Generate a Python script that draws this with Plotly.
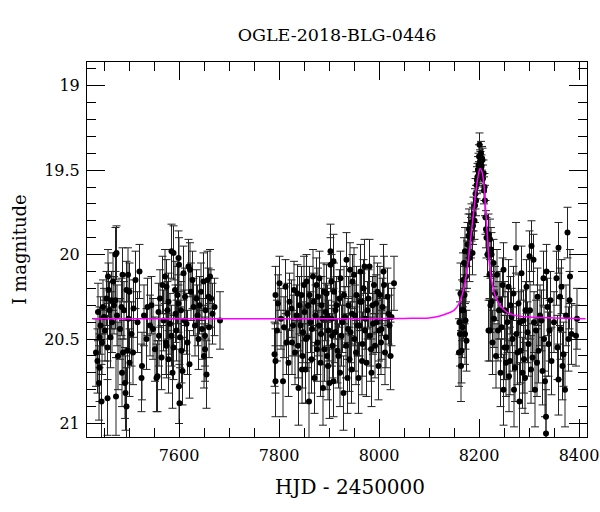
import plotly.graph_objects as go

# ---------------- data ----------------
# Season 1
hjd_s1 = [7434, 7437, 7438, 7440, 7441, 7441, 7443, 7445, 7446, 7448,
          7450, 7452, 7455, 7457, 7457, 7458, 7459, 7461, 7463, 7465,
          7466, 7468, 7470, 7473, 7473, 7474, 7475, 7476, 7478, 7482,
          7485, 7486, 7487, 7488, 7490, 7492, 7493, 7495, 7495, 7497,
          7498, 7499, 7501, 7501, 7505, 7508, 7509, 7513, 7517, 7521,
          7525, 7526, 7530, 7535, 7537, 7542, 7545, 7548, 7552, 7555,
          7557, 7559, 7560, 7562, 7565, 7567, 7569, 7572, 7574, 7575,
          7575, 7577, 7579, 7579, 7582, 7585, 7585, 7587, 7589, 7589,
          7592, 7593, 7595, 7597, 7599, 7599, 7600, 7600, 7601, 7602,
          7604, 7605, 7607, 7609, 7611, 7612, 7615, 7617, 7619, 7621,
          7622, 7624, 7627, 7629, 7632, 7635, 7637, 7639, 7641, 7644,
          7646, 7649, 7650, 7652, 7652, 7653, 7655, 7657, 7659, 7660,
          7662, 7664, 7667, 7671, 7682]
mag_s1 = [20.58, 20.63, 20.34, 20.76, 20.49, 20.67, 20.42, 20.87, 20.52, 20.31,
          20.37, 20.45, 20.26, 20.85, 20.55, 20.13, 20.21, 20.33, 20.49, 20.27,
          20.40, 20.16, 20.30, 20.00, 20.27, 20.84, 19.99, 20.36, 20.60, 20.44,
          20.31, 20.70, 20.12, 20.58, 20.33, 20.76, 20.82, 20.21, 20.90, 20.57,
          20.12, 20.38, 20.22, 20.64, 20.47, 20.58, 20.32, 20.15, 20.40, 20.10,
          20.73, 20.66, 20.36, 20.50, 20.31, 20.42, 20.30, 20.44, 20.56, 20.73,
          20.72, 20.34, 20.48, 20.26, 20.61, 20.18, 20.39, 20.13, 20.52, 20.19,
          20.54, 20.33, 20.62, 20.28, 20.41, 19.98, 20.48, 20.70, 19.99, 20.55,
          20.21, 20.35, 20.45, 20.24, 20.02, 20.29, 20.06, 20.78, 20.88, 20.49,
          20.33, 20.57, 20.69, 20.11, 20.39, 20.25, 20.41, 20.52, 20.07, 20.65,
          20.09, 20.22, 20.15, 20.31, 20.42, 20.26, 20.36, 20.50, 20.30, 20.22,
          20.44, 20.16, 20.60, 20.48, 20.56, 20.33, 20.71, 20.15, 20.25, 20.43,
          20.13, 20.26, 20.35, 20.31, 20.39]
err_s1 = [0.20, 0.19, 0.17, 0.22, 0.18, 0.20, 0.17, 0.22, 0.19, 0.16,
          0.17, 0.18, 0.16, 0.22, 0.19, 0.16, 0.16, 0.17, 0.18, 0.17,
          0.18, 0.17, 0.17, 0.16, 0.17, 0.23, 0.16, 0.18, 0.20, 0.18,
          0.17, 0.20, 0.16, 0.19, 0.17, 0.21, 0.22, 0.17, 0.23, 0.19,
          0.16, 0.18, 0.17, 0.20, 0.19, 0.19, 0.17, 0.17, 0.18, 0.16,
          0.20, 0.20, 0.18, 0.18, 0.17, 0.18, 0.17, 0.18, 0.19, 0.20,
          0.21, 0.17, 0.18, 0.17, 0.19, 0.17, 0.18, 0.16, 0.19, 0.16,
          0.19, 0.17, 0.20, 0.17, 0.18, 0.16, 0.18, 0.21, 0.16, 0.19,
          0.17, 0.17, 0.18, 0.17, 0.16, 0.17, 0.16, 0.22, 0.23, 0.18,
          0.17, 0.19, 0.20, 0.16, 0.18, 0.17, 0.18, 0.19, 0.16, 0.20,
          0.16, 0.17, 0.17, 0.17, 0.18, 0.17, 0.18, 0.18, 0.17, 0.17,
          0.18, 0.17, 0.19, 0.18, 0.19, 0.17, 0.20, 0.17, 0.17, 0.18,
          0.16, 0.17, 0.18, 0.17, 0.17]

# Season 2
hjd_s2 = [7791, 7793, 7793, 7793, 7796, 7798, 7801, 7804, 7808, 7810,
          7813, 7815, 7817, 7819, 7821, 7825, 7826, 7828, 7830, 7832,
          7835, 7837, 7838, 7839, 7841, 7843, 7845, 7846, 7847, 7848,
          7850, 7851, 7853, 7854, 7855, 7857, 7858, 7860, 7861, 7863,
          7865, 7866, 7868, 7869, 7871, 7873, 7875, 7876, 7877, 7878,
          7880, 7881, 7883, 7884, 7885, 7887, 7888, 7890, 7891, 7893,
          7895, 7896, 7897, 7898, 7899, 7901, 7903, 7903, 7905, 7905,
          7906, 7907, 7909, 7909, 7910, 7912, 7913, 7915, 7917, 7919,
          7921, 7922, 7923, 7925, 7927, 7929, 7930, 7932, 7934, 7935,
          7937, 7938, 7939, 7941, 7942, 7943, 7945, 7946, 7947, 7950,
          7951, 7952, 7954, 7955, 7957, 7959, 7961, 7962, 7963, 7965,
          7966, 7967, 7969, 7971, 7972, 7973, 7975, 7977, 7979, 7981,
          7982, 7984, 7985, 7987, 7988, 7990, 7992, 7994, 7995, 7997,
          7999, 8000, 8002, 8004, 8005, 8007, 8009, 8010, 8012, 8014,
          8017, 8019, 8021, 8023, 8025, 8030]
mag_s2 = [20.59, 20.24, 20.63, 20.75, 20.45, 20.29, 20.17, 20.38, 20.75, 20.43,
          20.19, 20.52, 20.35, 20.64, 20.28, 20.32, 20.52, 20.42, 20.21, 20.58,
          20.36, 20.23, 20.54, 20.79, 20.30, 20.42, 20.24, 20.68, 20.60, 20.46,
          20.18, 20.34, 20.68, 20.50, 20.16, 20.49, 20.30, 20.87, 20.24, 20.40,
          20.62, 20.44, 20.13, 20.28, 20.73, 20.36, 20.18, 20.56, 20.52, 20.25,
          20.42, 20.14, 20.64, 20.47, 20.30, 20.38, 20.79, 20.22, 20.56, 20.34,
          20.23, 20.60, 20.36, 20.66, 20.45, 20.76, 19.98, 20.06, 20.16, 20.38,
          20.48, 20.54, 20.04, 20.75, 20.22, 20.46, 20.33, 20.30, 20.57, 20.60,
          20.26, 20.70, 20.14, 20.48, 20.40, 20.82, 20.24, 20.37, 20.54, 20.03,
          20.73, 20.44, 20.30, 20.62, 20.09, 20.46, 20.68, 20.35, 20.16, 20.12,
          20.50, 20.36, 20.58, 20.24, 20.42, 20.73, 20.42, 20.28, 20.10, 20.28,
          20.63, 20.53, 20.20, 20.07, 20.45, 20.38, 20.64, 20.33, 20.26, 20.07,
          20.48, 20.56, 20.70, 20.30, 20.41, 20.18, 20.54, 20.29, 20.40, 20.22,
          20.66, 20.45, 20.24, 20.52, 20.44, 20.31, 20.10, 20.18, 20.58, 20.49,
          20.25, 20.35, 20.42, 20.60, 20.37, 20.17]
err_s2 = [0.19, 0.17, 0.19, 0.21, 0.18, 0.17, 0.16, 0.18, 0.21, 0.18,
          0.16, 0.19, 0.18, 0.20, 0.17, 0.17, 0.19, 0.18, 0.17, 0.19,
          0.18, 0.17, 0.19, 0.22, 0.17, 0.18, 0.17, 0.20, 0.19, 0.18,
          0.17, 0.17, 0.20, 0.19, 0.16, 0.18, 0.17, 0.23, 0.17, 0.18,
          0.20, 0.18, 0.16, 0.17, 0.21, 0.18, 0.16, 0.19, 0.19, 0.17,
          0.18, 0.16, 0.20, 0.18, 0.17, 0.18, 0.22, 0.17, 0.19, 0.17,
          0.17, 0.20, 0.18, 0.20, 0.18, 0.21, 0.16, 0.16, 0.16, 0.18,
          0.18, 0.19, 0.16, 0.21, 0.17, 0.18, 0.17, 0.17, 0.19, 0.19,
          0.17, 0.20, 0.16, 0.18, 0.18, 0.22, 0.17, 0.18, 0.19, 0.16,
          0.21, 0.18, 0.17, 0.19, 0.16, 0.18, 0.20, 0.18, 0.16, 0.16,
          0.19, 0.18, 0.19, 0.17, 0.18, 0.21, 0.18, 0.17, 0.16, 0.17,
          0.20, 0.19, 0.17, 0.16, 0.18, 0.18, 0.20, 0.17, 0.17, 0.16,
          0.18, 0.19, 0.20, 0.17, 0.18, 0.17, 0.19, 0.17, 0.18, 0.17,
          0.20, 0.18, 0.17, 0.19, 0.18, 0.17, 0.16, 0.17, 0.19, 0.18,
          0.17, 0.18, 0.18, 0.20, 0.17, 0.16]

# Season 3 (event)
hjd_s3 = [8160, 8161, 8162, 8163, 8164, 8165, 8166, 8167, 8168, 8169,
          8170, 8171, 8172, 8172, 8173, 8174, 8175, 8176, 8177, 8179,
          8180, 8181, 8182, 8184, 8185, 8187, 8188, 8189, 8191, 8192,
          8193, 8194, 8195, 8196, 8197, 8198, 8199, 8200, 8200, 8201,
          8202, 8203, 8204, 8204, 8205, 8206, 8207, 8208, 8209, 8210,
          8211, 8212, 8213, 8214, 8215, 8217, 8219, 8219, 8221, 8222,
          8222, 8223, 8224, 8225, 8225, 8227, 8229, 8230, 8232, 8234,
          8236, 8238, 8240, 8242, 8243, 8245, 8247, 8249, 8249, 8251,
          8252, 8254, 8255, 8257, 8259, 8260, 8262, 8263, 8265, 8267,
          8269, 8270, 8272, 8274, 8275, 8277, 8279, 8281, 8282, 8283,
          8285, 8287, 8289, 8290, 8292, 8293, 8295, 8297, 8299, 8301,
          8302, 8304, 8305, 8307, 8309, 8310, 8312, 8314, 8316, 8317,
          8319, 8322, 8325, 8327, 8329, 8330, 8332, 8334, 8334, 8335,
          8337, 8339, 8341, 8343, 8345, 8350, 8355, 8357, 8359, 8359,
          8362, 8363, 8365, 8367, 8369, 8372, 8374, 8377, 8379, 8381,
          8382, 8385, 8394, 8396]
mag_s3 = [20.58, 20.40, 20.47, 20.23, 20.66, 20.57, 20.33, 20.43, 20.15, 20.33,
          20.05, 20.24, 19.98, 20.47, 20.39, 20.13, 20.51, 20.06, 19.94, 19.89,
          19.85, 20.02, 19.88, 19.90, 19.81, 19.99, 19.83, 19.76, 19.80, 19.71,
          19.64, 19.68, 19.59, 19.56, 19.54, 19.50, 19.47, 19.42, 19.52, 19.35,
          19.45, 19.46, 19.40, 19.50, 19.48, 19.43, 19.44, 19.55, 19.52, 19.62,
          19.60, 19.68, 19.78, 19.85, 19.90, 20.00, 19.88, 20.45, 20.12, 19.91,
          20.45, 20.30, 19.97, 20.00, 20.28, 20.52, 20.05, 20.38, 20.23, 20.60,
          20.12, 20.45, 20.33, 20.27, 20.70, 20.43, 20.18, 20.09, 20.80, 20.55,
          20.33, 20.64, 20.55, 20.40, 20.19, 20.72, 20.63, 20.30, 20.37, 20.50,
          20.23, 20.80, 20.67, 19.96, 20.47, 20.58, 20.29, 20.87, 20.40, 20.57,
          20.11, 20.70, 20.39, 20.62, 20.73, 20.33, 20.19, 20.46, 20.53, 20.01,
          20.33, 20.68, 19.95, 20.61, 20.03, 20.40, 20.80, 20.45, 20.64, 20.25,
          20.57, 20.36, 20.39, 20.69, 20.14, 20.50, 20.75, 20.96, 21.06, 20.10,
          20.31, 20.53, 20.45, 20.27, 20.63, 20.40, 20.14, 20.55, 19.96, 20.74,
          20.25, 20.44, 20.19, 20.66, 20.59, 20.80, 20.36, 19.87, 20.50, 20.27,
          20.13, 20.47, 20.48, 20.38]
err_s3 = [0.20, 0.19, 0.19, 0.18, 0.21, 0.19, 0.18, 0.18, 0.16, 0.17,
          0.15, 0.17, 0.14, 0.18, 0.17, 0.15, 0.18, 0.14, 0.13, 0.13,
          0.12, 0.14, 0.12, 0.12, 0.11, 0.13, 0.11, 0.10, 0.11, 0.10,
          0.09, 0.09, 0.08, 0.08, 0.08, 0.08, 0.07, 0.07, 0.07, 0.07,
          0.07, 0.07, 0.07, 0.07, 0.07, 0.07, 0.07, 0.08, 0.08, 0.08,
          0.08, 0.09, 0.10, 0.11, 0.12, 0.13, 0.12, 0.18, 0.14, 0.12,
          0.18, 0.16, 0.13, 0.13, 0.16, 0.19, 0.14, 0.17, 0.16, 0.19,
          0.15, 0.18, 0.17, 0.17, 0.20, 0.18, 0.16, 0.16, 0.21, 0.19,
          0.17, 0.20, 0.19, 0.18, 0.16, 0.21, 0.20, 0.17, 0.17, 0.19,
          0.16, 0.22, 0.20, 0.15, 0.18, 0.19, 0.17, 0.23, 0.18, 0.19,
          0.16, 0.21, 0.18, 0.20, 0.21, 0.17, 0.16, 0.18, 0.19, 0.15,
          0.17, 0.20, 0.15, 0.20, 0.15, 0.18, 0.22, 0.18, 0.20, 0.17,
          0.19, 0.18, 0.18, 0.20, 0.16, 0.19, 0.21, 0.24, 0.26, 0.16,
          0.17, 0.19, 0.18, 0.17, 0.20, 0.18, 0.16, 0.19, 0.15, 0.21,
          0.17, 0.18, 0.16, 0.20, 0.19, 0.22, 0.18, 0.15, 0.19, 0.17,
          0.16, 0.18, 0.18, 0.18]

# Model curve
model_hjd = [7428, 7700, 7900, 8050, 8100, 8120, 8135, 8150, 8160, 8168,
             8174, 8180, 8185, 8190, 8194, 8198, 8202, 8206, 8210, 8213,
             8217, 8220, 8225, 8232, 8240, 8255, 8272, 8300, 8413]
model_mag = [20.38, 20.38, 20.38, 20.378, 20.375, 20.365, 20.35, 20.33, 20.29, 20.22,
             20.13, 20.00, 19.86, 19.73, 19.62, 19.54, 19.49, 19.51, 19.59, 19.72,
             19.90, 20.03, 20.15, 20.24, 20.29, 20.34, 20.36, 20.37, 20.38]

title_text = "OGLE-2018-BLG-0446"
x_title = "HJD - 2450000"
y_title = "I magnitude"

FONT = "DejaVu Serif"
W, H = 600, 512

fig = go.Figure()
for hx, hy, he in [(hjd_s1, mag_s1, err_s1), (hjd_s2, mag_s2, err_s2), (hjd_s3, mag_s3, err_s3)]:
    fig.add_trace(go.Scatter(
        x=hx, y=hy, mode="markers",
        marker=dict(color="black", size=6),
        error_y=dict(type="data", array=he, visible=True, color="#222222", thickness=1, width=4),
        showlegend=False, hoverinfo="skip",
    ))
fig.add_trace(go.Scatter(
    x=model_hjd, y=model_mag, mode="lines",
    line=dict(color="#ff00ff", width=1.5, shape="spline", smoothing=0.8),
    showlegend=False, hoverinfo="skip",
))

axis_common = dict(
    showline=True, linecolor="black", linewidth=1, mirror="allticks",
    ticks="inside", tickcolor="black", tickwidth=1,
    showgrid=False, zeroline=False, automargin=False,
    tickfont=dict(family=FONT, size=16, color="black"),
)

fig.update_layout(
    width=W, height=H,
    margin=dict(l=87, r=13, t=62, b=75),
    paper_bgcolor="white", plot_bgcolor="white",
    title=dict(text=title_text, x=0.5, xref="paper", xanchor="center",
               y=1 - 35 / H, yref="container", yanchor="middle",
               font=dict(family=FONT, size=17.5, color="black")),
    xaxis=dict(range=[7416, 8416], dtick=200, tick0=7400, ticklen=18,
               ticklabelstandoff=4,
               minor=dict(dtick=50, ticks="inside", ticklen=9, tickcolor="black", showgrid=False),
               **axis_common),
    yaxis=dict(range=[21.08, 18.86], dtick=0.5, tick0=19, ticklen=18,
               ticklabelstandoff=3,
               minor=dict(dtick=0.1, ticks="inside", ticklen=9, tickcolor="black", showgrid=False),
               title=dict(text=y_title, font=dict(family=FONT, size=18, color="black"), standoff=12),
               **axis_common),
    annotations=[dict(text=x_title, xref="paper", yref="paper",
                      x=(350 - 87) / 500, y=-(487 - 437) / 375,
                      xanchor="center", yanchor="middle", showarrow=False,
                      font=dict(family=FONT, size=20, color="black"))],
)

# remove the browser's default 8px page margin so the figure sits at the window origin
fig.write_html("out.html", config={"displayModeBar": False},
               post_script="document.body.style.margin='0px';")
